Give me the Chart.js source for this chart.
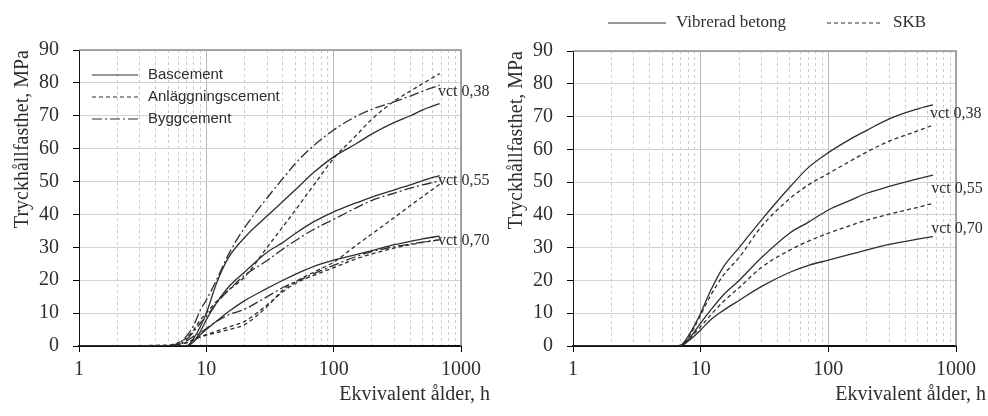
<!DOCTYPE html>
<html>
<head>
<meta charset="utf-8">
<script src="https://cdn.jsdelivr.net/npm/chart.js@4.4.1/dist/chart.umd.min.js"></script>
<style>
  html, body { margin: 0; padding: 0; background: #fff; }
  #wrap { position: relative; width: 988px; height: 416px; overflow: hidden; }
  canvas { position: absolute; top: 0; }
  #left { left: 0; }
  #right { left: 494px; }
</style>
</head>
<body>
<div id="wrap">
  <canvas id="left" width="500" height="416"></canvas>
  <canvas id="right" width="494" height="416"></canvas>
</div>
<script>
// --- data (hours on a log axis, strength in MPa) ---
const leftHours = [1, 5, 6, 7, 8, 9, 10, 12, 15, 20, 30, 40, 50, 70, 100, 150, 200, 300, 400, 500, 680];
const bas038  = [0, 0, 0, 0, 2.5, 6, 10, 19, 27, 33, 39.5, 44, 47.5, 52.8, 57.5, 61.5, 64.5, 68, 70, 71.8, 73.7];
const bas055  = [0, 0, 0, 0, 1.5, 4.5, 8, 13, 18, 22.5, 28.5, 31.5, 34.2, 37.8, 40.8, 43.5, 45.3, 47.5, 49, 50.3, 51.8];
const bas070  = [0, 0, 0, 0, 1.5, 3.5, 5, 7.5, 10.5, 13.8, 17.5, 20, 21.8, 24.2, 26.1, 27.8, 29, 30.8, 31.8, 32.6, 33.4];
const anl038  = [0, 0.3, 1, 2.5, 5, 8, 10, 13.5, 17, 21, 30, 36.3, 41.3, 49, 57, 64, 69, 74.5, 77.5, 79.8, 82.8];
const anl055  = [0, 0, 0.5, 1, 2, 2.8, 3.3, 4, 5, 6.5, 12, 17, 19.5, 22.5, 25.5, 30.6, 34.1, 39.1, 42.7, 45.4, 49.2];
const anl070  = [0, 0, 0.5, 1, 2, 2.8, 3.5, 4.5, 5.8, 7.5, 12.5, 16.5, 19, 21.5, 23.8, 26.5, 28, 29.8, 30.8, 31.5, 32.3];
const bygg038 = [0, 0, 0.8, 3, 6.5, 11, 14, 20, 28, 36, 45, 51, 55.5, 61, 65.7, 69.8, 72, 74.3, 76, 77.5, 79.3];
const bygg055 = [0, 0, 0.5, 2, 4.5, 7, 9, 13, 17, 21.5, 26, 29.5, 32, 35.5, 38.5, 42, 44.3, 46.5, 48, 49, 50.2];
const bygg070 = [0, 0, 0.3, 1.5, 3, 4, 5.3, 7.5, 9.5, 11.2, 15, 17.8, 19.5, 22, 24.5, 27.2, 28.7, 30.2, 31, 31.6, 32.3];

const rightHours = [1, 6, 7, 8, 9, 10, 12, 15, 20, 30, 50, 70, 100, 150, 200, 300, 500, 660];
const vib038 = [0, 0, 0.3, 3, 6.5, 10, 17, 24, 30, 38.5, 48.5, 54.5, 59, 63.2, 65.8, 69.3, 72.3, 73.6];
const vib055 = [0, 0, 0.2, 2, 4.5, 7, 11, 15.5, 20, 27, 34.5, 37.8, 41.5, 44.5, 46.6, 48.7, 51, 52.1];
const vib070 = [0, 0, 0.1, 1.5, 3.2, 4.9, 8, 10.8, 13.9, 18.2, 22.5, 24.6, 26.2, 28, 29.3, 31, 32.6, 33.4];
const skb038 = [0, 0, 0.2, 2.5, 6, 9.5, 15.5, 21.5, 27, 36.5, 45, 49.2, 52.6, 56.5, 59.2, 62.5, 65.6, 67.4];
const skb055 = [0, 0, 0.1, 1.8, 4, 5.9, 9.5, 13.5, 17.8, 24, 29.3, 32, 34.4, 36.8, 38.4, 40.2, 42.3, 43.5];

const leftNames  = ['Bascement', 'Anläggningscement', 'Byggcement'];
const rightNames = ['Vibrerad betong', 'SKB'];
const vctTags    = ['vct 0,38', 'vct 0,55', 'vct 0,70'];
const xTickValues = [1, 2, 3, 4, 5, 6, 7, 8, 9, 10, 20, 30, 40, 50, 60, 70, 80, 90,
                     100, 200, 300, 400, 500, 600, 700, 800, 900, 1000];
const majorTicks = [1, 10, 100, 1000];
const yTitle = 'Tryckhållfasthet, MPa';
const xTitle = 'Ekvivalent ålder, h';

// --- styling ---
const INK = '#2e2e2e';
const SERIF = '"Liberation Serif", "DejaVu Serif", serif';
const SANS = '"Liberation Sans", Arial, sans-serif';
const SOLID = [];
const DASHED = [4, 3];
const DASHDOT = [10, 3, 2, 3];

const isMajor = v => majorTicks.includes(v);

function series(label, hours, values, dash) {
    return {
        label,
        data: hours.map((h, i) => ({ x: h, y: values[i] })),
        borderColor: INK,
        borderWidth: 1.3,
        borderDash: dash,
        pointRadius: 0,
        cubicInterpolationMode: 'monotone',
        fill: false
    };
}

// frame, curve tags, x title and legend
const decor = {
    id: 'decor',
    afterDraw(chart, args, opts) {
        const { ctx, chartArea: a, scales: { x, y } } = chart;
        ctx.save();
        ctx.strokeStyle = '#8f8f8f';
        ctx.lineWidth = 1.5;
        ctx.beginPath();
        ctx.moveTo(a.left, a.top);
        ctx.lineTo(a.right, a.top);
        ctx.lineTo(a.right, a.bottom);
        ctx.stroke();

        ctx.fillStyle = INK;
        ctx.textBaseline = 'middle';
        ctx.textAlign = 'left';
        ctx.font = '16px ' + SERIF;
        opts.tags.forEach((t, i) => {
            ctx.fillText(vctTags[i], x.getPixelForValue(t[0]), y.getPixelForValue(t[1]));
        });

        ctx.font = '20px ' + SERIF;
        ctx.textAlign = 'right';
        ctx.fillText(xTitle, opts.titleRight, 395);

        ctx.textAlign = 'left';
        ctx.font = opts.legendFont;
        ctx.strokeStyle = INK;
        ctx.lineWidth = 1.2;
        opts.legend.forEach(it => {
            ctx.setLineDash(it.dash);
            ctx.beginPath();
            ctx.moveTo(it.x0, it.y);
            ctx.lineTo(it.x1, it.y);
            ctx.stroke();
            ctx.fillText(it.text, it.x1 + 10, it.y);
        });
        ctx.restore();
    }
};

function makeOptions(top, right, decorOpts) {
    return {
        responsive: false,
        animation: false,
        devicePixelRatio: 1,
        layout: { padding: { left: 0, top: top, right: right, bottom: 0 } },
        plugins: {
            legend: { display: false },
            tooltip: { enabled: false },
            decor: decorOpts
        },
        scales: {
            x: {
                type: 'logarithmic',
                min: 1,
                max: 1000,
                afterFit: s => { s.height = 70; },
                afterBuildTicks: s => { s.ticks = xTickValues.map(v => ({ value: v })); },
                ticks: {
                    autoSkip: false,
                    maxRotation: 0,
                    padding: 6,
                    color: INK,
                    font: { family: SERIF, size: 20 },
                    callback: v => isMajor(v) ? String(v) : ''
                },
                grid: {
                    color: c => (c.tick && isMajor(c.tick.value)) ? '#b8b8b8' : '#cdcdcd',
                    tickColor: c => (c.tick && isMajor(c.tick.value)) ? '#000' : 'rgba(0,0,0,0)',
                    tickLength: 6,
                    lineWidth: 1
                },
                border: {
                    color: '#111',
                    width: 2,
                    dash: c => (c.tick && !isMajor(c.tick.value)) ? [3, 3] : []
                }
            },
            y: {
                min: 0,
                max: 90,
                afterFit: s => { s.width = 79; },
                ticks: {
                    stepSize: 10,
                    padding: 14,
                    color: INK,
                    font: { family: SERIF, size: 20 }
                },
                grid: { color: '#d2d2d2', tickColor: '#000', tickLength: 6, lineWidth: 1 },
                border: { color: '#111', width: 1 },
                title: {
                    display: true,
                    text: yTitle,
                    align: 'end',
                    color: INK,
                    font: { family: SERIF, size: 20 },
                    padding: { top: 11, bottom: 0 }
                }
            }
        }
    };
}

new Chart(document.getElementById('left'), {
    type: 'line',
    data: {
        datasets: [
            series(leftNames[0] + ' 0,38', leftHours, bas038, SOLID),
            series(leftNames[0] + ' 0,55', leftHours, bas055, SOLID),
            series(leftNames[0] + ' 0,70', leftHours, bas070, SOLID),
            series(leftNames[1] + ' 0,38', leftHours, anl038, DASHED),
            series(leftNames[1] + ' 0,55', leftHours, anl055, DASHED),
            series(leftNames[1] + ' 0,70', leftHours, anl070, DASHED),
            series(leftNames[2] + ' 0,38', leftHours, bygg038, DASHDOT),
            series(leftNames[2] + ' 0,55', leftHours, bygg055, DASHDOT),
            series(leftNames[2] + ' 0,70', leftHours, bygg070, DASHDOT)
        ]
    },
    options: makeOptions(50, 39, {
        tags: [[659, 77.2], [659, 50.2], [659, 32]],
        titleRight: 490,
        legendFont: '15px ' + SANS,
        legend: [
            { text: leftNames[0], dash: SOLID, x0: 92, x1: 138, y: 75 },
            { text: leftNames[1], dash: DASHED, x0: 92, x1: 138, y: 97 },
            { text: leftNames[2], dash: DASHDOT, x0: 92, x1: 138, y: 119 }
        ]
    }),
    plugins: [decor]
});

new Chart(document.getElementById('right'), {
    type: 'line',
    data: {
        datasets: [
            series(rightNames[0] + ' 0,38', rightHours, vib038, SOLID),
            series(rightNames[0] + ' 0,55', rightHours, vib055, SOLID),
            series(rightNames[0] + ' 0,70', rightHours, vib070, SOLID),
            series(rightNames[1] + ' 0,38', rightHours, skb038, DASHED),
            series(rightNames[1] + ' 0,55', rightHours, skb055, DASHED)
        ]
    },
    options: makeOptions(51, 32, {
        tags: [[625, 70.7], [640, 47.9], [640, 35.7]],
        titleRight: 492,
        legendFont: '17px ' + SERIF,
        legend: [
            { text: rightNames[0], dash: SOLID, x0: 114, x1: 172, y: 23 },
            { text: rightNames[1], dash: DASHED, x0: 333, x1: 389, y: 23 }
        ]
    }),
    plugins: [decor]
});
</script>
</body>
</html>
